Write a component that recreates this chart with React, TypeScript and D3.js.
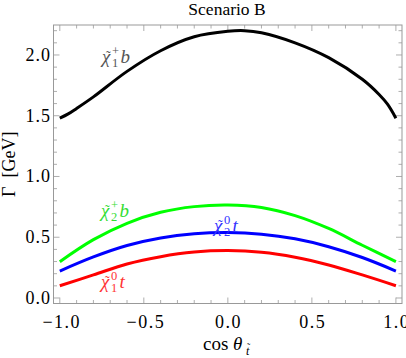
import React from "react";
import * as d3 from "d3";

// ---- data ----
const cosGrid = [-1, -0.8, -0.6, -0.4, -0.2, 0, 0.2, 0.4, 0.6, 0.8, 1];
const chi2PlusB = [0.299, 0.48, 0.615, 0.705, 0.752, 0.765, 0.745, 0.678, 0.572, 0.434, 0.299];
const chi2ZeroT = [0.222, 0.338, 0.432, 0.494, 0.528, 0.538, 0.525, 0.487, 0.422, 0.333, 0.222];
const chi1ZeroT = [0.101, 0.19, 0.28, 0.34, 0.378, 0.39, 0.377, 0.336, 0.272, 0.19, 0.101];

const cosGridBlack = [-1, -0.95, -0.9, -0.8, -0.6, -0.4, -0.2, 0, 0.1, 0.2, 0.4, 0.6, 0.8, 0.9, 0.95, 1];
const chi1PlusB = [1.48, 1.515, 1.56, 1.655, 1.865, 2.035, 2.15, 2.195, 2.2, 2.183, 2.1, 1.978, 1.8, 1.675, 1.595, 1.48];

const xMajor = [-1, -0.5, 0, 0.5, 1];
const xMajorLabels = ["\u22121.0", "\u22120.5", "0.0", "0.5", "1.0"];
const yMajor = [0, 0.5, 1, 1.5, 2];
const yMajorLabels = ["0.0", "0.5", "1.0", "1.5", "2.0"];

const title = "Scenario B";

// ---- layout ----
const W = 406, H = 358;
const L = 53.5, R = 402, T = 25, B = 303.5;
const x = d3.scaleLinear().domain([-1.0375, 1.0363]).range([L, R]);
const y = d3.scaleLinear().domain([-0.0453, 2.2467]).range([B, T]);

const frameColor = "#999";
const serif = '"Liberation Serif", "Times New Roman", "DejaVu Serif", serif';

function Label({ x0, yb, color, sub, sup, tail }: { x0: number; yb: number; color: string; sub: string; sup: string; tail: string }) {
  return (
    <g fill={color} style={{ fontFamily: serif }}>
      <text x={x0} y={yb} fontSize={19} fontStyle="italic">χ</text>
      <text x={x0 + 4} y={yb - 2} fontSize={14}>˜</text>
      <text x={x0 + 10} y={yb + 4} fontSize={12.5}>{sub}</text>
      <text x={x0 + 10} y={yb - 8} fontSize={12.5}>{sup}</text>
      <text x={x0 + 18.5} y={yb} fontSize={19} fontStyle="italic">{tail}</text>
    </g>
  );
}

export default function App() {
  const line = (xs: number[]) =>
    d3
      .line<number>()
      .x((_, i) => x(xs[i]))
      .y((d) => y(d))
      .curve(d3.curveCatmullRom.alpha(0.5));

  const xMinor = d3.range(-10, 11).map((i) => i / 10).filter((v) => !xMajor.some((m) => Math.abs(m - v) < 1e-9));
  const yMinor = d3.range(0, 23).map((i) => i / 10).filter((v) => !yMajor.some((m) => Math.abs(m - v) < 1e-9));

  const maj = 6, min = 3.5;

  return (
    <svg width={W} height={H} style={{ position: "absolute", left: 0, top: 0, fontFamily: serif }} xmlns="http://www.w3.org/2000/svg">
      <rect width={W} height={H} fill="#fff" />
      {/* frame */}
      <rect x={L} y={T} width={R - L} height={B - T} fill="none" stroke={frameColor} strokeWidth={1} />
      {/* ticks */}
      <g stroke={frameColor} strokeWidth={0.8}>
        {xMajor.map((v) => (
          <g key={"xm" + v}>
            <line x1={x(v)} x2={x(v)} y1={B} y2={B - maj} />
            <line x1={x(v)} x2={x(v)} y1={T} y2={T + maj} />
          </g>
        ))}
        {xMinor.map((v) => (
          <g key={"xn" + v}>
            <line x1={x(v)} x2={x(v)} y1={B} y2={B - min} />
            <line x1={x(v)} x2={x(v)} y1={T} y2={T + min} />
          </g>
        ))}
        {yMajor.map((v) => (
          <g key={"ym" + v}>
            <line x1={L} x2={L + maj} y1={y(v)} y2={y(v)} />
            <line x1={R} x2={R - maj} y1={y(v)} y2={y(v)} />
          </g>
        ))}
        {yMinor.map((v) => (
          <g key={"yn" + v}>
            <line x1={L} x2={L + min} y1={y(v)} y2={y(v)} />
            <line x1={R} x2={R - min} y1={y(v)} y2={y(v)} />
          </g>
        ))}
      </g>
      {/* tick labels */}
      <g fontSize={18} fill="#000">
        {xMajor.map((v, i) => (
          <text key={"xl" + v} x={x(v) + (v < 0 ? 2 : 0.75)} y={328} textAnchor="middle" letterSpacing={1.5}>{xMajorLabels[i]}</text>
        ))}
        {yMajor.map((v, i) => (
          <text key={"yl" + v} x={51} y={y(v) + 6} textAnchor="end" letterSpacing={1}>{yMajorLabels[i]}</text>
        ))}
      </g>
      {/* curves */}
      <g fill="none" strokeWidth={3} strokeLinejoin="round">
        <path d={line(cosGridBlack)(chi1PlusB) || ""} stroke="#000" />
        <path d={line(cosGrid)(chi2PlusB) || ""} stroke="#00ff00" />
        <path d={line(cosGrid)(chi2ZeroT) || ""} stroke="#0000ff" />
        <path d={line(cosGrid)(chi1ZeroT) || ""} stroke="#ff0000" />
      </g>
      {/* curve labels */}
      <Label x0={102} yb={63} color="#555" sub="1" sup="+" tail="b" />
      <Label x0={101} yb={217} color="#33dd33" sub="2" sup="+" tail="b" />
      <Label x0={214} yb={232} color="#3333ff" sub="2" sup="0" tail="t" />
      <Label x0={101} yb={288} color="#ff3333" sub="1" sup="0" tail="t" />
      {/* title */}
      <text x={227} y={15} fontSize={17.5} textAnchor="middle">{title}</text>
      {/* axis labels */}
      <text x={203} y={350} fontSize={19}>
        cos <tspan fontStyle="italic">θ</tspan>
      </text>
      <text x={246} y={355} fontSize={12} fontStyle="italic">t</text>
      <text x={247} y={351} fontSize={10}>˜</text>
      <text transform={`translate(15,${(T + B) / 2}) rotate(-90)`} fontSize={18} textAnchor="middle">
        {"Γ\u00a0\u00a0[GeV]"}
      </text>
    </svg>
  );
}
